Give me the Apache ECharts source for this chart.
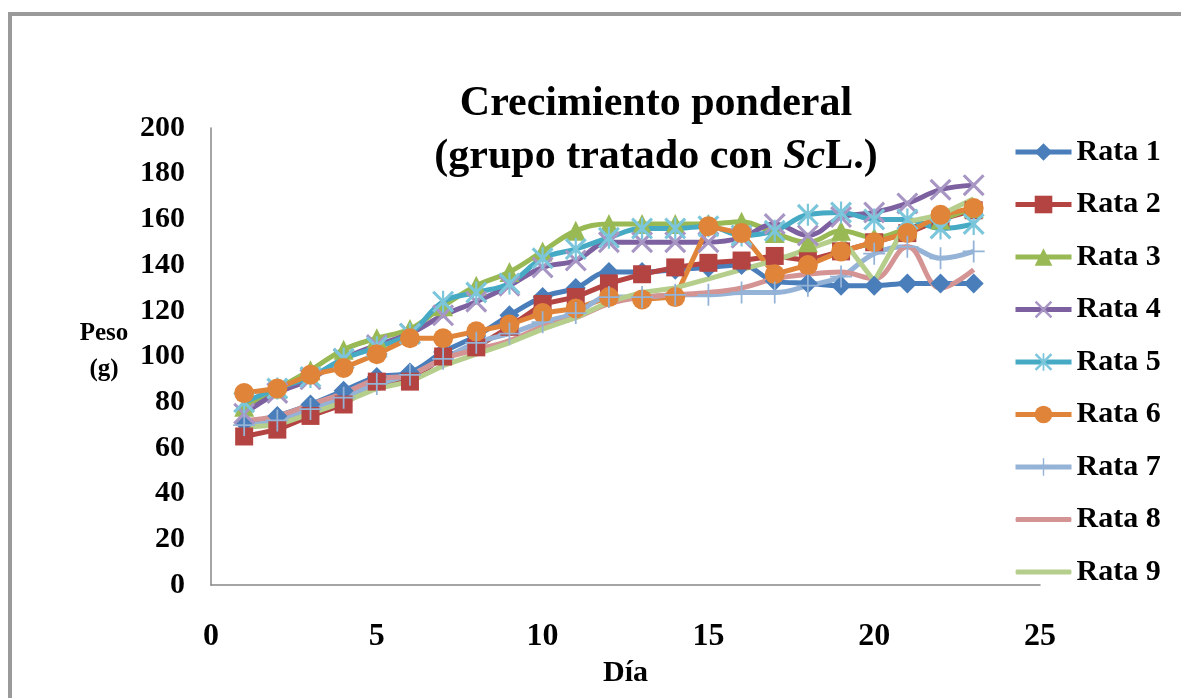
<!DOCTYPE html>
<html>
<head>
<meta charset="utf-8">
<title>Crecimiento ponderal</title>
<script src="https://cdn.jsdelivr.net/npm/echarts@6/dist/echarts.min.js"></script>
<style>
  html, body { margin: 0; padding: 0; background: #fff; }
  #chart { width: 1181px; height: 698px; }
</style>
</head>
<body>
<div id="chart"></div>
<script>
// dias y pesos (g)
const days = [1, 2, 3, 4, 5, 6, 7, 8, 9, 10, 11, 12, 13, 14, 15, 16, 17, 18, 19, 20, 21, 22, 23]
const rata1 = [71, 74, 79, 85, 91, 93, 102, 109, 118, 126, 130, 137, 137, 138, 139, 140, 133, 132, 131, 131, 132, 132, 132]
const rata2 = [65, 68, 74, 79, 89, 89, 100, 104, 113, 123, 126, 132, 136, 139, 141, 142, 144, 142, 146, 150, 154, 160, 164]
const rata3 = [78, 86, 94, 103, 108, 112, 122, 131, 137, 146, 155, 158, 158, 158, 158, 159, 154, 150, 155, 152, 156, 160, 165]
const rata4 = [75, 84, 90, 99, 105, 110, 118, 124, 131, 139, 142, 150, 150, 150, 150, 152, 158, 153, 161, 163, 167, 173, 175]
const rata5 = [80, 86, 91, 99, 104, 110, 124, 128, 132, 143, 147, 152, 156, 156, 157, 153, 155, 162, 163, 160, 160, 156, 158]
const rata6 = [84, 86, 92, 95, 101, 108, 108, 111, 114, 119, 121, 126, 125, 126, 157, 154, 136, 140, 146, 150, 154, 162, 165]
const rata7 = [70, 72, 77, 82, 88, 92, 99, 106, 110, 115, 119, 126, 126, 127, 127, 128, 128, 131, 135, 145, 148, 143, 146]
const rata8 = [72, 74, 79, 84, 90, 92, 99, 103, 107, 113, 117, 123, 126, 127, 128, 130, 134, 136, 137, 134, 148, 130, 138]
const rata9 = [69, 70, 75, 80, 86, 89, 96, 101, 106, 112, 117, 124, 128, 130, 134, 138, 142, 147, 152, 133, 159, 162, 169]

const serif = '"Liberation Serif", "DejaVu Serif", serif'

// marcadores tipo Excel
const xMark = 'path://M0,1L1,0L10,9L9,10Z M9,0L10,1L1,10L0,9Z'
const starMark = 'path://M0,1L1,0L10,9L9,10Z M9,0L10,1L1,10L0,9Z M4.5,0L5.5,0L5.5,10L4.5,10Z'
const plusMark = 'path://M4.6,0L5.4,0L5.4,10L4.6,10Z M0,4.6L10,4.6L10,5.4L0,5.4Z'
// icono de leyenda solo linea (series sin marcador)
const lineIcon = 'path://M0,0L0.01,0L0.01,22L0,22Z M1,8.5L55,8.5Q56,8.5 56,11Q56,13.5 55,13.5L1,13.5Q0,13.5 0,11Q0,8.5 1,8.5Z'

function pts(values) {
  return days.map((d, i) => [d, values[i]])
}

function makeSeries(name, values, color, symbol, size, smooth, markColor) {
  return {
    name: name,
    type: 'line',
    data: pts(values),
    smooth: smooth,
    symbol: symbol,
    symbolSize: size,
    showSymbol: symbol !== 'none',
    lineStyle: { color: color, width: 5 },
    itemStyle: { color: markColor || color, borderWidth: 0 }
  }
}

const chart = echarts.init(document.getElementById('chart'))

const option = {
  backgroundColor: '#fff',
  animation: false,
  title: {
    text: 'Crecimiento ponderal\n(grupo tratado con {i|Sc}L.)',
    left: 651,
    top: 73,
    textAlign: 'center',
    textStyle: {
      fontFamily: serif,
      fontWeight: 'bold',
      fontSize: 42,
      lineHeight: 53,
      color: '#000',
      rich: {
        i: { fontFamily: serif, fontWeight: 'bold', fontStyle: 'italic', fontSize: 42, color: '#000' }
      }
    }
  },
  legend: {
    orient: 'vertical',
    left: 1008,
    top: 132,
    itemWidth: 56,
    itemHeight: 22,
    itemGap: 22.5,
    lineStyle: { width: 5 },
    textStyle: { fontFamily: serif, fontWeight: 'bold', fontSize: 30, color: '#000', lineHeight: 30 },
    data: [
      'Rata 1', 'Rata 2', 'Rata 3', 'Rata 4', 'Rata 5', 'Rata 6', 'Rata 7',
      { name: 'Rata 8', icon: lineIcon },
      { name: 'Rata 9', icon: lineIcon }
    ]
  },
  grid: { left: 211, right: 141, top: 128, bottom: 113 },
  xAxis: {
    type: 'value',
    min: 0,
    max: 25,
    interval: 5,
    name: 'Día',
    nameLocation: 'middle',
    nameGap: 62,
    nameTextStyle: { fontFamily: serif, fontWeight: 'bold', fontSize: 30, color: '#000' },
    axisLine: { lineStyle: { color: '#868686', width: 1.5 } },
    axisTick: { show: false },
    splitLine: { show: false },
    axisLabel: { fontFamily: serif, fontWeight: 'bold', fontSize: 32, color: '#000', margin: 36 }
  },
  yAxis: {
    type: 'value',
    min: 0,
    max: 200,
    interval: 20,
    axisLine: { show: true, lineStyle: { color: '#868686', width: 1.5 } },
    axisTick: { show: false },
    splitLine: { show: false },
    axisLabel: { fontFamily: serif, fontWeight: 'bold', fontSize: 30, color: '#000', margin: 26 }
  },
  graphic: [
    {
      type: 'rect',
      shape: { x: 10, y: 14, width: 1200, height: 720 },
      style: { fill: 'none', stroke: '#9a9a9a', lineWidth: 4 },
      silent: true
    },
    {
      type: 'text',
      x: 104,
      y: 316,
      style: {
        text: 'Peso\n(g)',
        fontFamily: serif,
        fontWeight: 'bold',
        fontSize: 25,
        lineHeight: 36,
        align: 'center',
        fill: '#000'
      }
    }
  ],
  series: [
    makeSeries('Rata 1', rata1, '#4A7EBB', 'diamond', 20, 0.4),
    makeSeries('Rata 2', rata2, '#B44442', 'rect', 18, false),
    makeSeries('Rata 3', rata3, '#98B954', 'triangle', 20, 0.4),
    makeSeries('Rata 4', rata4, '#7D60A0', xMark, 22, 0.4, '#A795C4'),
    makeSeries('Rata 5', rata5, '#46AAC5', starMark, 22, 0.4, '#7CC6DB'),
    makeSeries('Rata 6', rata6, '#E0843A', 'circle', 20, false),
    makeSeries('Rata 7', rata7, '#94B3D6', plusMark, 22, 0.4),
    makeSeries('Rata 8', rata8, '#D49494', 'none', 0, 0.4),
    makeSeries('Rata 9', rata9, '#B5CE8C', 'none', 0, false)
  ]
}

chart.setOption(option)
</script>
</body>
</html>
